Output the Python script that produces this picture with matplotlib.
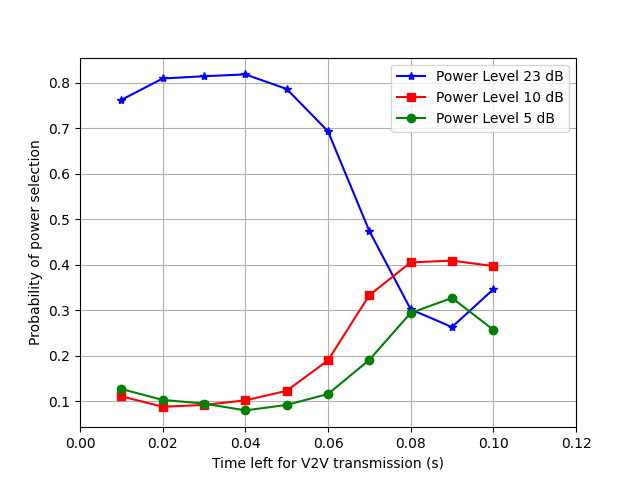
import matplotlib
matplotlib.use("Agg")
import matplotlib.pyplot as plt

x = [0.01, 0.02, 0.03, 0.04, 0.05, 0.06, 0.07, 0.08, 0.09, 0.10]
p23 = [0.762, 0.809, 0.814, 0.818, 0.786, 0.693, 0.474, 0.302, 0.263, 0.346]
p10 = [0.111, 0.088, 0.092, 0.102, 0.123, 0.190, 0.333, 0.405, 0.409, 0.397]
p5 = [0.127, 0.103, 0.095, 0.080, 0.092, 0.116, 0.191, 0.294, 0.327, 0.257]

fig, ax = plt.subplots(figsize=(6.4, 4.8), dpi=100)
ax.plot(x, p23, 'b*-', label='Power Level 23 dB')
ax.plot(x, p10, 'rs-', label='Power Level 10 dB')
ax.plot(x, p5, 'go-', label='Power Level 5 dB')
ax.set_xlim(0, 0.12)
ax.set_xlabel('Time left for V2V transmission (s)')
ax.set_ylabel('Probability of power selection')
ax.grid(True)
ax.legend(loc='upper right')
fig.savefig('out.png')
